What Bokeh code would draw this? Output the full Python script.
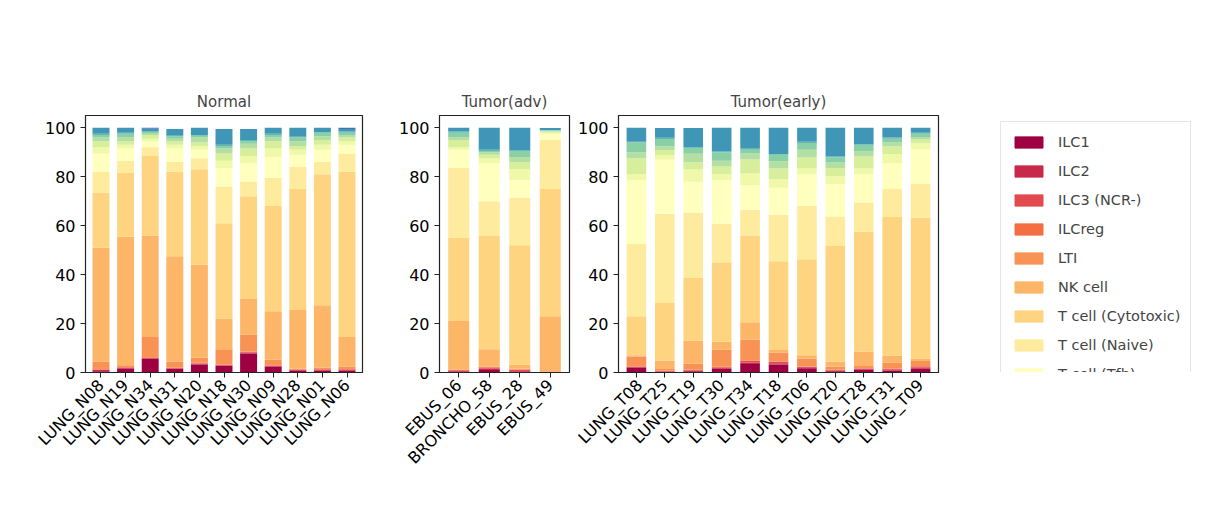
import math
from bokeh.plotting import figure
from bokeh.models import Range1d, FactorRange, Legend, LegendItem, ColumnDataSource
from bokeh.layouts import row
from bokeh.embed import file_html
from bokeh.resources import INLINE

cell_types = ["ILC1", "ILC2", "ILC3 (NCR-)", "ILCreg", "LTI", "NK cell", "T cell (Cytotoxic)",
              "T cell (Naive)", "T cell (Tfh)", "T cell (Th1)", "T cell (Th17)", "T cell (Th2)",
              "T cell (Th22)", "T cell (Th9)", "T cell (Treg)", "unassigned"]
colors = ["#9e0142", "#c8294a", "#e34a4f", "#f46d43", "#f99355", "#fdb567", "#fed481",
          "#feeb9d", "#ffffbe", "#f0f9a8", "#d7ef9b", "#b3e0a2", "#89d0a5", "#5fbaa8",
          "#3f96b7", "#4a6fb0"]

normal_samples = ["LUNG_N08", "LUNG_N19", "LUNG_N34", "LUNG_N31", "LUNG_N20", "LUNG_N18",
                  "LUNG_N30", "LUNG_N09", "LUNG_N28", "LUNG_N01", "LUNG_N06"]
normal_values = [
    [0.5, 0.5, 0.2, 0.1, 3.2, 46.5, 22.5, 8.5, 7.5, 2.5, 2.5, 1.5, 1.0, 0.5, 2.5, 0.0],
    [1.5, 0.3, 0.2, 0.2, 0.8, 52.5, 26.0, 5.0, 5.0, 1.5, 1.5, 1.5, 1.5, 0.5, 2.0, 0.0],
    [5.5, 0.3, 0.3, 0.1, 8.3, 41.5, 32.5, 3.5, 2.5, 1.0, 1.5, 0.5, 0.8, 0.3, 1.0, 0.4],
    [1.5, 0.2, 0.1, 0.1, 2.6, 43.0, 34.5, 4.0, 5.5, 1.5, 1.5, 1.0, 1.0, 0.5, 2.5, 0.0],
    [3.3, 0.3, 0.2, 0.2, 2.0, 38.0, 39.0, 4.5, 3.5, 1.5, 1.5, 2.0, 0.7, 0.3, 3.0, 0.0],
    [2.8, 0.2, 0.2, 0.1, 6.2, 12.5, 39.0, 15.0, 7.5, 3.0, 3.0, 2.0, 1.0, 0.5, 6.5, 0.0],
    [7.8, 0.4, 0.2, 0.1, 7.0, 14.5, 42.0, 6.0, 7.5, 3.0, 3.0, 2.0, 1.0, 0.5, 4.5, 0.0],
    [2.5, 0.3, 0.1, 0.1, 2.2, 19.8, 43.0, 11.5, 8.5, 3.5, 3.0, 1.5, 1.0, 0.5, 2.5, 0.0],
    [0.7, 0.3, 0.2, 0.1, 0.2, 24.0, 49.5, 9.0, 5.0, 2.0, 1.5, 2.0, 1.5, 0.3, 3.7, 0.0],
    [0.8, 0.3, 0.2, 0.1, 0.6, 25.5, 53.5, 5.0, 5.0, 2.0, 2.0, 1.5, 1.5, 0.3, 1.7, 0.0],
    [0.8, 0.3, 0.2, 0.1, 1.1, 12.0, 67.5, 7.5, 3.5, 1.5, 1.5, 1.0, 1.0, 0.5, 1.0, 0.5],
]

adv_samples = ["EBUS_06", "BRONCHO_58", "EBUS_28", "EBUS_49"]
adv_values = [
    [0.3, 0.3, 0.3, 0.1, 0.2, 19.8, 34.0, 28.5, 7.5, 1.0, 3.0, 1.0, 2.0, 0.5, 1.5, 0.0],
    [1.0, 0.5, 0.5, 0.3, 0.2, 7.0, 46.5, 14.0, 15.5, 2.0, 1.5, 1.0, 0.5, 0.5, 9.0, 0.0],
    [0.3, 0.3, 0.4, 0.2, 0.4, 1.7, 48.7, 19.5, 7.0, 4.5, 3.0, 2.0, 2.5, 0.2, 9.3, 0.0],
    [0.1, 0.1, 0.1, 0.1, 0.1, 22.5, 52.0, 20.0, 2.5, 0.5, 0.5, 0.3, 0.2, 0.1, 0.8, 0.0],
]

early_samples = ["LUNG_T08", "LUNG_T25", "LUNG_T19", "LUNG_T30", "LUNG_T34", "LUNG_T18",
                 "LUNG_T06", "LUNG_T20", "LUNG_T28", "LUNG_T31", "LUNG_T09"]
early_values = [
    [2.0, 0.2, 0.2, 0.2, 3.9, 0.5, 16.0, 29.5, 26.0, 2.5, 6.5, 2.5, 4.0, 0.3, 5.7, 0.0],
    [0.3, 0.2, 0.2, 0.1, 0.6, 3.5, 23.5, 36.5, 22.0, 2.0, 2.0, 1.5, 3.0, 0.5, 4.0, 0.0],
    [0.5, 0.3, 0.2, 0.1, 2.5, 9.5, 25.5, 26.8, 12.5, 5.0, 3.0, 3.5, 2.3, 0.3, 7.9, 0.0],
    [1.5, 0.3, 0.3, 0.2, 7.0, 3.3, 32.4, 15.8, 17.7, 2.5, 3.2, 2.3, 3.5, 0.3, 9.7, 0.0],
    [3.5, 0.5, 0.8, 0.2, 8.5, 7.0, 35.5, 10.5, 10.0, 4.8, 5.7, 2.5, 1.5, 0.7, 8.3, 0.0],
    [3.3, 0.5, 0.6, 0.2, 3.6, 1.0, 36.3, 19.0, 11.0, 3.5, 4.3, 3.0, 2.7, 0.3, 10.7, 0.0],
    [1.7, 0.4, 0.2, 0.2, 3.2, 1.3, 39.3, 21.7, 13.0, 2.3, 4.5, 3.2, 2.8, 0.5, 5.7, 0.0],
    [0.5, 0.3, 0.2, 0.1, 1.4, 2.0, 47.2, 12.0, 13.3, 3.2, 3.3, 2.3, 2.0, 0.5, 11.7, 0.0],
    [1.2, 0.2, 0.2, 0.1, 1.0, 5.8, 49.0, 12.0, 11.5, 2.3, 5.0, 2.0, 2.7, 0.2, 6.8, 0.0],
    [0.8, 0.3, 0.3, 0.2, 2.5, 2.8, 56.6, 11.5, 10.5, 3.8, 3.0, 1.7, 1.5, 0.5, 4.0, 0.0],
    [1.5, 0.5, 0.5, 0.2, 2.0, 1.0, 57.5, 14.0, 14.0, 2.5, 1.5, 1.0, 1.3, 0.5, 2.0, 0.0],
]

yticks = [0, 20, 40, 60, 80, 100]
FONT = "DejaVu Sans"
H = 500
TOP = 115
FH = 257


def panel(title, samples, values, left, frame_w, right):
    keys = [f"c{i}" for i in range(len(cell_types))]
    data = {"x": samples}
    for i, k in enumerate(keys):
        data[k] = [v[i] for v in values]
    src = ColumnDataSource(data)
    n = len(samples)
    p = figure(x_range=FactorRange(*samples, range_padding=0.26 / n, range_padding_units="percent"),
               y_range=Range1d(0, 105), width=left + frame_w + right, height=H,
               frame_width=frame_w, frame_height=FH, min_border_left=left, min_border_right=right,
               min_border_top=TOP, min_border_bottom=H - TOP - FH,
               output_backend="svg", toolbar_location=None, title=title)
    p.vbar_stack(keys, x="x", width=0.69, color=colors, source=src, line_width=0)
    p.title.align = "center"
    p.title.text_font = FONT
    p.title.text_font_style = "normal"
    p.title.text_font_size = "15px"
    p.title.offset = 0
    p.xgrid.visible = False
    p.ygrid.visible = False
    p.outline_line_color = "#222222"
    p.outline_line_width = 1.2
    p.yaxis.ticker = yticks
    for ax in (p.xaxis, p.yaxis):
        ax.axis_line_color = "#222222"
        ax.major_tick_line_color = "#222222"
        ax.major_tick_in = 0
        ax.major_tick_out = 5
        ax.minor_tick_line_color = None
        ax.major_label_text_font = FONT
        ax.major_label_text_font_size = "16px"
        ax.major_label_text_color = "black"
    p.xaxis.major_label_orientation = math.pi / 4
    return p


p1 = panel("Normal", normal_samples, normal_values, 85, 277, 10)
p2 = panel("Tumor(adv)", adv_samples, adv_values, 67, 130, 5)
p3 = panel("Tumor(early)", early_samples, early_values, 13, 320, 10)

pl = figure(width=280, height=H, x_range=Range1d(0, 1), y_range=Range1d(0, 1),
            min_border=0, min_border_left=46, output_backend="svg", toolbar_location=None)
pl.axis.visible = False
pl.grid.visible = False
pl.outline_line_color = None
items = []
for name, c in zip(cell_types, colors):
    r = pl.quad(left=[5], right=[6], bottom=[5], top=[6], fill_color=c, line_color=c)
    items.append(LegendItem(label=name, renderers=[r]))
leg = Legend(items=items, location="top_left", glyph_width=35, glyph_height=14,
             label_height=20, spacing=9, padding=10, label_text_font=FONT,
             label_text_font_size="14.5px", border_line_color="#cccccc",
             border_line_width=1, label_standoff=12, background_fill_alpha=1, margin=6)
pl.add_layout(leg)

layout = row(p1, p2, p3, pl, spacing=0)
open("out.html", "w").write(file_html(layout, INLINE))
